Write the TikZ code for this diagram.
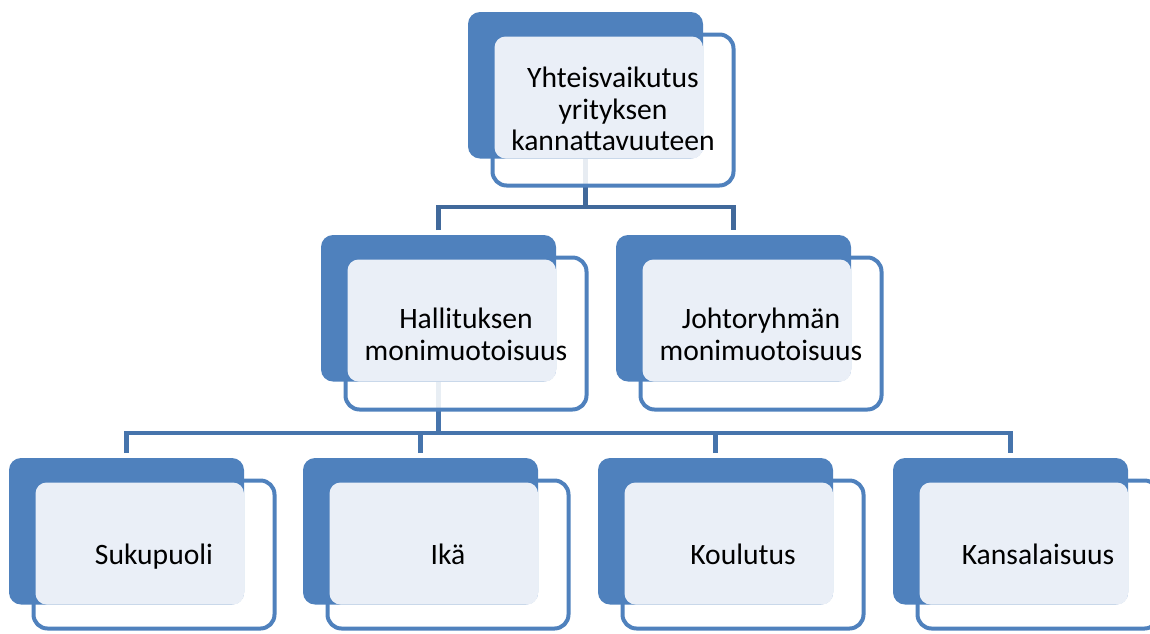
\documentclass[tikz,border=0pt]{standalone}
\usepackage{fontspec}
\setmainfont{Carlito}
\usetikzlibrary{calc}
\definecolor{accent}{HTML}{4F81BD}
\definecolor{lightfill}{HTML}{EAEFF7}
\definecolor{connA}{HTML}{41699B}
\definecolor{connB}{HTML}{4674AC}
\tikzset{
  backbox/.style={draw=none, fill=accent, rounded corners=12pt, minimum width=235pt, minimum height=146.5pt, anchor=north west, inner sep=0pt, outer sep=0pt},
  frontbox/.style={draw=accent, line width=4pt, fill=white, fill opacity=0.88, rounded corners=14pt, minimum width=241pt, minimum height=#1, anchor=north west, inner sep=0pt, outer sep=0pt},
  frontbox/.default=151pt,
  lightbox/.style={fill=lightfill, rounded corners=11pt},
  boxtext/.style={font=\fontsize{29.6}{31.5}\selectfont, align=center, text=black, inner sep=0pt},
  connline/.style={line width=4.5pt}
}
\begin{document}
\begin{tikzpicture}[x=1pt,y=-1pt]
\useasboundingbox (0,0) rectangle (1150,633);
\clip (0,0) rectangle (1150,633);
\path
  (468,12)  coordinate (p1)
  (321,235) coordinate (p2)
  (616,235) coordinate (p3)
  (9,458)   coordinate (p4)
  (303,458) coordinate (p5)
  (598,458) coordinate (p6)
  (893,458) coordinate (p7);
\foreach \i in {1,...,7}{
  \path (p\i) node[backbox, fill=none] (b\i) {};
}
% connector buses
\coordinate (bus1) at (0,207);
\coordinate (bus2) at (0,433);
\draw[connline, connA] (b1.south) -- (b1.south |- bus1);
\draw[connline, connA] ([yshift=5pt]b2.north) |- (bus1 -| b1.south) -| ([yshift=5pt]b3.north);
\draw[connline, connB] (b2.south) -- (b2.south |- bus2);
\draw[connline, connB] ([yshift=5pt]b4.north) |- (bus2 -| b7.north) -- ([yshift=5pt]b7.north);
\draw[connline, connB] ([yshift=5pt]b5.north) -- (b5.north |- bus2);
\draw[connline, connB] ([yshift=5pt]b6.north) -- (b6.north |- bus2);
% front boxes
\foreach \i/\h in {1/151pt,2/152pt,3/152pt,4/148pt,5/148pt,6/148pt,7/148pt}{
  \node[frontbox=\h] (f\i) at ($(p\i)+(24.5,22.5)$) {};
}
% back boxes on top
\foreach \i in {1,...,7}{
  \fill[accent, rounded corners=12pt] (b\i.north west) rectangle (b\i.south east);
}
% light text areas
\foreach \i in {1,...,7}{
  \fill[lightbox] ($(f\i.north west)+(2,2)$) rectangle (b\i.south east);
}
% texts
\node[boxtext] (t1) at ($(f1.center)+(0,-1)$) {Yhteisvaikutus\\yrityksen\\kannattavuuteen};
\node[boxtext] (t2) at ($(f2.center)+(0,1)$) {Hallituksen\\monimuotoisuus};
\node[boxtext] (t3) at ($(f3.center)+(0,1)$) {Johtoryhmän\\monimuotoisuus};
\node[boxtext, anchor=base] (t4) at ($(f4.center)+(0,10)$) {Sukupuoli};
\node[boxtext, anchor=base] (t5) at ($(f5.center)+(0,10)$) {Ikä};
\node[boxtext, anchor=base] (t6) at ($(f6.center)+(0,10)$) {Koulutus};
\node[boxtext, anchor=base] (t7) at ($(f7.center)+(0,10)$) {Kansalaisuus};
\end{tikzpicture}
\end{document}
